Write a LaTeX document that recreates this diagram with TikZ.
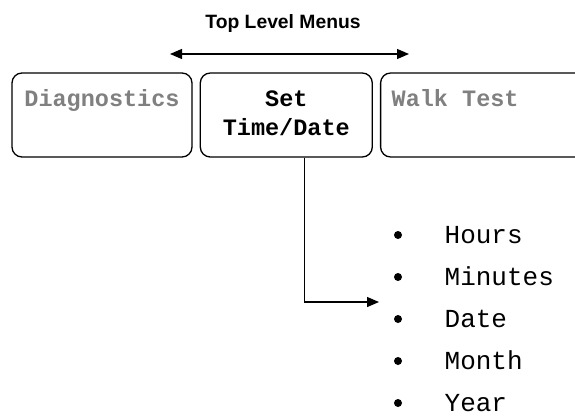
\documentclass[tikz,border=0pt]{standalone}
\usepackage{fontspec}
\setmainfont{Liberation Sans}
\setmonofont{Liberation Mono}
\usetikzlibrary{arrows.meta, positioning}

\begin{document}
\begin{tikzpicture}[x=1pt, y=-1pt, line width=1.3pt,
        >={Triangle[length=12pt, width=10pt]},
        menubox/.style={draw, rounded corners=10pt, minimum height=84pt},
        menutext/.style={font=\ttfamily\bfseries\fontsize{23.5}{29}\selectfont, align=center, anchor=base, inner sep=0pt},
        listitem/.style={font=\ttfamily\fontsize{26}{30}\selectfont, anchor=base west, inner sep=0pt},
        bullet/.style={circle, fill, inner sep=0pt, minimum size=8pt}]
        \useasboundingbox (0,0) rectangle (575,415);
        \clip (0,0) rectangle (575,415);

        \node[font=\bfseries\fontsize{19.3}{23}\selectfont, anchor=base, inner sep=0pt] (title) at (283,28) {Top Level Menus};
        \coordinate (menul) at (170,54);
        \coordinate (menur) at (409,54);
        \draw[<->] (menul) -- (menur);

        \node[menubox, minimum width=180pt] (diag) at (102,115) {};
        \node[menubox, minimum width=172pt] (settime) [right=7pt of diag] {};
        \node[menubox, minimum width=220pt] (walk) [right=7pt of settime] {};

        \node[menutext, black!50] (diagtxt) at (diag |- 0,106) {Diagnostics};
        \node[menutext] (settimetxt) at (settime |- 0,135) {Set\\Time/Date};
        \node[menutext, black!50, anchor=base west] (walktxt) at (391,106) {Walk Test};

        \foreach \entry [count=\i] in {Hours, Minutes, Date, Month, Year} {
            \node[bullet] (dot\i) at (398, {201+42*\i-8}) {};
            \node[listitem] (item\i) at (444, {201+42*\i}) {\entry};
        }

        \coordinate (listin) at (379,302);
        \draw[->] ([xshift=18pt]settime.south) |- (listin);
\end{tikzpicture}
\end{document}
